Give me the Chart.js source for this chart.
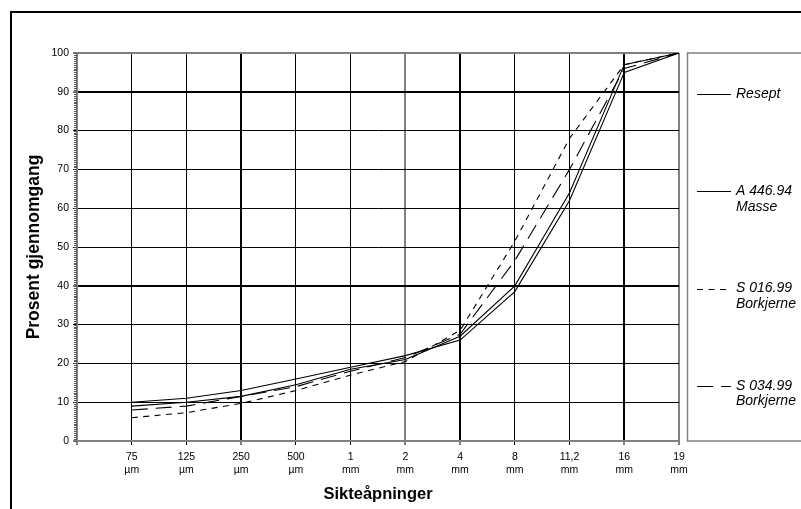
<!DOCTYPE html>
<html>
<head>
<meta charset="utf-8">
<script src="https://cdn.jsdelivr.net/npm/chart.js@4/dist/chart.umd.min.js"></script>
<style>
  html, body { margin: 0; padding: 0; background: #fff; }
</style>
</head>
<body>
<canvas id="gradingChart" width="801" height="509"></canvas>
<script>
// sieve openings, two-line tick labels (size / unit)
const sieveSizes = ['75', '125', '250', '500', '1', '2', '4', '8', '11,2', '16', '19'];
const sieveUnits = ['µm', 'µm', 'µm', 'µm', 'mm', 'mm', 'mm', 'mm', 'mm', 'mm', 'mm'];

// percent passing per sieve
const resept = [10, 11, 13, 16, 19, 22, 26, 38.5, 62, 95, 100];
const masseA44694 = [9, 10, 11.5, 14.5, 18.5, 21, 27, 40, 64, 97, 100];
const kjerneS01699 = [6, 7.3, 9.7, 13, 17, 20.5, 28.5, 51.5, 78, 97, 100];
const kjerneS03499 = [8, 9, 11.5, 14, 18, 21.5, 27.5, 46.5, 70, 96, 100];

const seriesNames = [['Resept'], ['A 446.94', 'Masse'], ['S 016.99', 'Borkjerne'], ['S 034.99', 'Borkjerne']];

const FONT = 'Arial, "Liberation Sans", sans-serif';
const GRAY = '#808080';

// first slot is the empty category at the y axis
const labels = [''].concat(sieveSizes.map((s, i) => [s, sieveUnits[i]]));
const withLead = arr => [null].concat(arr);

function makeSet(name, values, dash) {
  return {
    label: name.join(' '),
    legendLines: name,
    data: withLead(values),
    borderColor: '#000',
    borderWidth: 1.1,
    borderDash: dash,
    pointRadius: 0,
    tension: 0,
    fill: false
  };
}

const frame = {
  id: 'frame',
  beforeDraw(chart) {
    const ctx = chart.ctx;
    ctx.save();
    ctx.fillStyle = '#fff';
    ctx.fillRect(0, 0, chart.width, chart.height);
    ctx.fillStyle = '#000';
    ctx.fillRect(10, 11, 2, chart.height - 11);
    ctx.fillRect(10, 11, chart.width - 10, 2);
    ctx.restore();
  },
  afterDraw(chart) {
    const ctx = chart.ctx;
    const y = chart.scales.y;
    const left = chart.chartArea.left;
    ctx.save();
    // minor ticks along the y axis
    ctx.strokeStyle = '#555';
    ctx.lineWidth = 1;
    ctx.beginPath();
    for (let v = 0; v <= 100; v += 0.5) {
      const py = Math.round(y.getPixelForValue(v)) + 0.5;
      ctx.moveTo(left - 3, py);
      ctx.lineTo(left, py);
    }
    ctx.stroke();

    // legend box on the right
    const boxLeft = chart.chartArea.right + 8;
    ctx.strokeStyle = GRAY;
    ctx.lineWidth = 1.5;
    ctx.strokeRect(boxLeft + 0.5, chart.chartArea.top, 200, chart.chartArea.bottom - chart.chartArea.top);

    ctx.fillStyle = '#000';
    ctx.font = 'italic 14px ' + FONT;
    ctx.textBaseline = 'middle';
    chart.data.datasets.forEach((ds, i) => {
      const ly = 94 + i * 97.3;
      ctx.strokeStyle = '#000';
      ctx.lineWidth = 1.1;
      ctx.setLineDash(ds.borderDash || []);
      ctx.beginPath();
      ctx.moveTo(boxLeft + 10, Math.round(ly) + 0.5);
      ctx.lineTo(boxLeft + 44, Math.round(ly) + 0.5);
      ctx.stroke();
      ctx.setLineDash([]);
      ds.legendLines.forEach((t, j) => ctx.fillText(t, boxLeft + 49, ly + j * 15.5));
    });
    ctx.restore();
  }
};

new Chart(document.getElementById('gradingChart'), {
  type: 'line',
  data: {
    labels: labels,
    datasets: [
      makeSet(seriesNames[0], resept, []),
      makeSet(seriesNames[1], masseA44694, []),
      makeSet(seriesNames[2], kjerneS01699, [6, 5.5]),
      makeSet(seriesNames[3], kjerneS03499, [16, 8])
    ]
  },
  options: {
    responsive: false,
    devicePixelRatio: 1,
    animation: false,
    layout: { padding: { top: 53, right: 122, bottom: 0, left: 0 } },
    plugins: {
      legend: { display: false },
      tooltip: { enabled: false }
    },
    scales: {
      x: {
        offset: false,
        afterFit: scale => { scale.height = 68; },
        border: { color: GRAY, width: 2 },
        grid: {
          color: c => [0, 6, 11].includes(c.index) ? GRAY : '#000',
          lineWidth: c => [0, 3, 6, 7, 10, 11].includes(c.index) ? 2 : 1,
          tickLength: 4,
          tickColor: '#000',
          tickWidth: 1
        },
        ticks: {
          autoSkip: false,
          maxRotation: 0,
          padding: 5,
          color: '#000',
          font: { family: FONT, size: 10.5, lineHeight: 1.3 }
        },
        title: {
          display: true,
          text: 'Sikteåpninger',
          color: '#000',
          padding: { top: 0, bottom: 5 },
          font: { family: FONT, size: 16.5, weight: 'bold', lineHeight: 1.2 }
        }
      },
      y: {
        min: 0,
        max: 100,
        afterFit: scale => { scale.width = 77; },
        border: { color: GRAY, width: 2 },
        grid: {
          color: c => (c.tick.value === 0 || c.tick.value === 100) ? GRAY : '#000',
          lineWidth: c => [0, 40, 90, 100].includes(c.tick.value) ? 2 : 1,
          tickLength: 4,
          tickColor: '#000',
          tickWidth: 1
        },
        ticks: {
          stepSize: 10,
          padding: 4,
          color: '#000',
          font: { family: FONT, size: 10.5 }
        },
        title: {
          display: true,
          text: 'Prosent gjennomgang',
          color: '#000',
          padding: { top: 24, bottom: 0 },
          font: { family: FONT, size: 17.5, weight: 'bold', lineHeight: 1.2 }
        }
      }
    }
  },
  plugins: [frame]
});
</script>
</body>
</html>
